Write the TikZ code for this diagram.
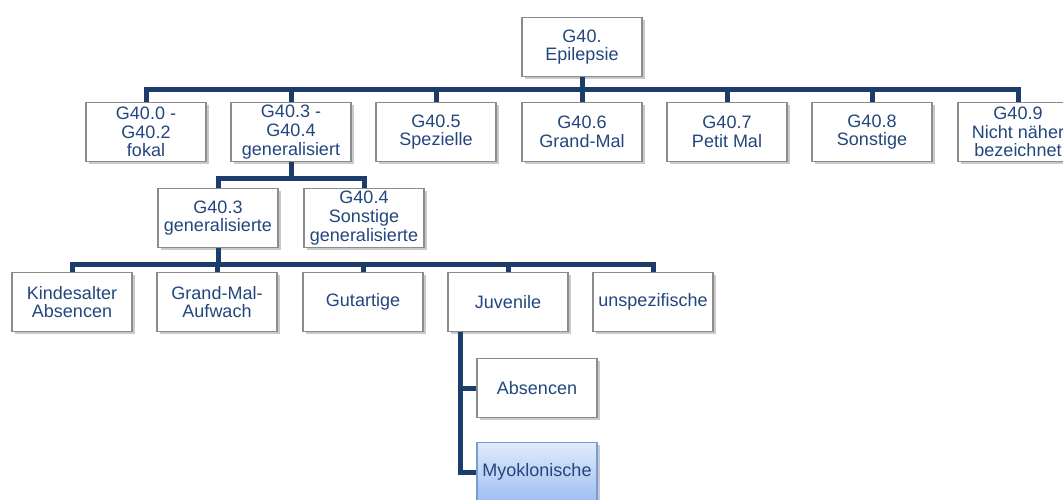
\documentclass[tikz,border=0pt]{standalone}
\usepackage{fontspec}
\setmainfont{Liberation Sans}
\usetikzlibrary{shadows}
\definecolor{txt}{RGB}{35,70,125}
\definecolor{conn}{RGB}{28,60,108}
\definecolor{bord}{RGB}{140,140,140}
\definecolor{hlbord}{RGB}{120,155,215}
\begin{document}
\begin{tikzpicture}[x=1pt,y=-1pt,
  box/.style={draw=bord, line width=1.1pt, fill=white, minimum width=120pt, minimum height=59pt,
    inner sep=0pt, align=center, text=txt, font=\fontsize{18}{18.7}\selectfont,
    drop shadow={shadow xshift=2.5pt, shadow yshift=-2.5pt, opacity=0.35, fill=black!60}},
  hlbox/.style={box, draw=hlbord, top color={rgb,255:red,225;green,234;blue,251}, bottom color={rgb,255:red,160;green,190;blue,240}},
  link/.style={draw=conn, line width=5pt, line cap=butt, line join=miter}]
\clip (0,0) rectangle (1063,500);
\fill[white] (0,0) rectangle (1063,500);
% coordinates of bars
\coordinate (b1) at (0,90);
\coordinate (b2) at (0,178);
\coordinate (b3) at (0,264);
% connectors (drawn first, nodes on top)
\path (582,47) node[box] (top) {G40.\\Epilepsie};
\path (146,132) node[box] (a0) {G40.0 -\\G40.2\\fokal};
\path (291,132) node[box] (a3) {G40.3 -\\G40.4\\generalisiert};
\path (436,132) node[box] (a5) {G40.5\\Spezielle};
\path (582,132) node[box] (a6) {G40.6\\Grand-Mal};
\path (727,132) node[box] (a7) {G40.7\\Petit Mal};
\path (872,132) node[box] (a8) {G40.8\\Sonstige};
\path (1018,132) node[box] (a9) {G40.9\\Nicht näher\\bezeichnet};
\path (218,218) node[box] (g3) {G40.3\\generalisierte};
\path (364,218) node[box] (g4) {G40.4\\Sonstige\\generalisierte};
\path (72,302) node[box] (k1) {Kindesalter\\Absencen};
\path (217,302) node[box] (k2) {Grand-Mal-\\Aufwach};
\path (363,302) node[box] (k3) {Gutartige};
\path (508,302) node[box] (k4) {Juvenile};
\path (653,302) node[box] (k5) {unspezifische};
\path (537,388) node[box] (j1) {Absencen};
\path (537,472) node[hlbox] (j2) {Myoklonische};
% level 1
\foreach \c in {a0,a3,a5,a6,a7,a8,a9}
  \draw[link] (top.south) -- (top.south |- b1) -| (\c.north);
% level 2
\foreach \c in {g3,g4}
  \draw[link] (a3.south) -- (a3.south |- b2) -| (\c.north);
% level 3
\foreach \c in {k1,k2,k3,k4,k5}
  \draw[link] (g3.south) -- (g3.south |- b3) -| (\c.north);
% level 4
\coordinate (jv) at ([xshift=-48pt]k4.south);
\draw[link] (jv) |- (j1.west);
\draw[link] (jv) |- (j2.west);
\end{tikzpicture}
\end{document}
